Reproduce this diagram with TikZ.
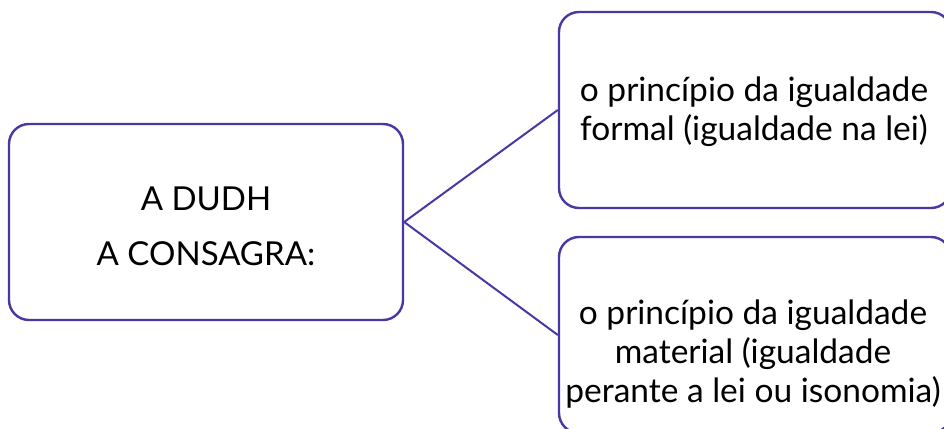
\documentclass[tikz,border=0pt]{standalone}
\usepackage{fontspec}
\setmainfont{Lato}
\definecolor{boxc}{RGB}{72,56,164}
\begin{document}
\begin{tikzpicture}[x=1pt,y=-1pt,
  box/.style={draw=boxc,line width=2.4pt,rounded corners=20pt,fill=white},
  txt/.style={align=center,font=\fontsize{33.5}{39}\selectfont,text=black,inner sep=0pt},
  conn/.style={draw=boxc,line width=2pt}]
\useasboundingbox (0,0) rectangle (944,428);
\clip (0,0) rectangle (944,428);
\node[box,minimum width=394pt,minimum height=196pt] (L) at (206,222) {};
\node[box,minimum width=392pt,minimum height=196pt] (T) at (755,110) {};
\node[box,minimum width=392pt,minimum height=196pt] (B) at (755,335) {};
\draw[conn] (L.east) -- (T.west);
\draw[conn] (L.east) -- (B.west);
\node[txt,font=\fontsize{33}{55}\selectfont] (Lt) at (206,226) {A DUDH\\A CONSAGRA:};
\node[txt] (Tt) at (754,112) {o princípio da igualdade\\formal (igualdade na lei)};
\node[txt] (Bt) at (753,354) {o princípio da igualdade\\material (igualdade\\perante a lei ou isonomia)};
\end{tikzpicture}
\end{document}
